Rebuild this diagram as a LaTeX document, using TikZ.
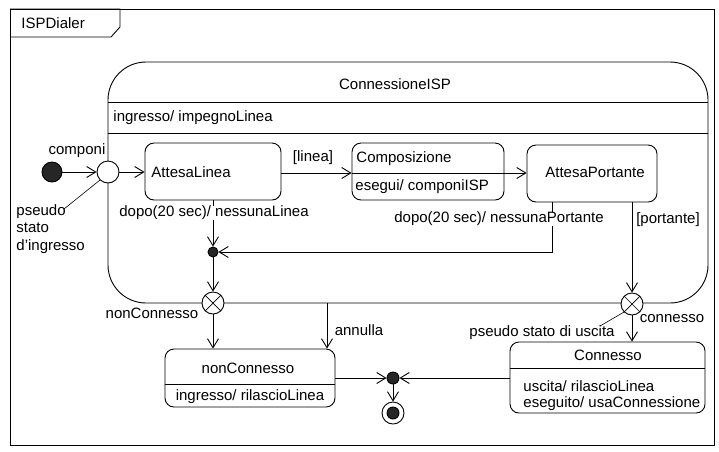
\documentclass[tikz,border=0pt]{standalone}
\usepackage{fontspec}
\setmainfont{Liberation Sans}
\usetikzlibrary{arrows.meta,calc}
\begin{document}
\begin{tikzpicture}[x=1pt,y=-1pt, line width=0.9pt,
  font=\fontsize{15}{17.5}\selectfont,
  arr/.style={-{Straight Barb[length=9pt,width=11pt,line width=0.9pt]}},
  stbox/.style={draw, rectangle, rounded corners=9pt, inner sep=0pt},
  filled/.style={circle, fill=black!85, draw, inner sep=0pt},
  pseudo/.style={circle, draw, fill=white, inner sep=0pt, minimum size=22pt},
  lbl/.style={inner sep=1pt}]
\useasboundingbox (0,0) rectangle (719,451);
% frame
\node[draw, rectangle, minimum width=704pt, minimum height=436pt, anchor=north west, inner sep=0pt] (frame) at (10,9) {};
\draw (frame.north west) -- ++(110,0) -- ++(0,18) -- ++(-9,10) -- ++(-101,0);
\node[lbl, anchor=west] (tabtxt) at (20,23) {ISPDialer};
% composite
\node[draw, rectangle, rounded corners=38pt, minimum width=600pt, minimum height=241pt, inner sep=0pt] (comp) at (408,182.5) {};
\node[lbl] (comptitle) at (395,84) {ConnessioneISP};
\coordinate (c1) at (0,102);
\coordinate (c2) at (0,133);
\draw (comp.west |- c1) -- (comp.east |- c1);
\draw (comp.west |- c2) -- (comp.east |- c2);
\node[lbl, anchor=west] (compentry) at (112,118) {ingresso/ impegnoLinea};
% initial and entry
\node[filled, minimum size=20pt] (init) at (52,172) {};
\node[pseudo] (entry) at (108,172) {};
\node[lbl] (componi) at (77,151) {componi};
\draw[arr] (init) -- (entry);
\node[lbl, anchor=north west, align=left] (psl) at (15,203) {pseudo\\stato\\d'ingresso};
\coordinate (pslend) at (64,209);
\draw[line width=0.6pt] (pslend) -- (entry.south west);
% inner states
\node[stbox, minimum width=136pt, minimum height=57pt] (al) at (213,171.5) {};
\node[lbl, anchor=west] (altxt) at (150,172) {AttesaLinea};
\node[stbox, minimum width=152pt, minimum height=57pt] (cmp) at (428,171.5) {};
\coordinate (c3) at (0,173);
\draw (cmp.west |- c3) -- (cmp.east |- c3);
\node[lbl, anchor=west] (cmptxt) at (355,159) {Composizione};
\node[lbl, anchor=west] (cmpdo) at (354,187) {esegui/ componiISP};
\node[stbox, minimum width=130pt, minimum height=57pt] (ap) at (592,173.5) {};
\node[lbl] (aptxt) at (595,172) {AttesaPortante};
\draw[arr] (entry) -- (entry -| al.west);
\draw[arr] (al.east |- c3) -- (cmp.west |- c3);
\node[lbl] (linea) at (313,158) {[linea]};
\draw[arr] (cmp.east |- c3) -- (ap.west |- c3);
% junction 1
\node[filled, minimum size=10pt] (j1) at (213,252) {};
\draw[arr] (al.south) -- (j1);
\draw[arr] ([xshift=-40pt]ap.south) |- (j1);
\node[lbl, fill=white, inner sep=0pt] (dl) at (214,213) {dopo(20 sec)/ nessunaLinea};
\node[lbl, fill=white, inner sep=0pt] (dp) at (499,219) {dopo(20 sec)/ nessunaPortante};
% exit points
\node[pseudo] (xnc) at (213,303) {};
\draw[line width=0.7pt] (xnc.north west) -- (xnc.south east) (xnc.north east) -- (xnc.south west);
\node[pseudo] (xc) at (632,304) {};
\draw[line width=0.7pt] (xc.north west) -- (xc.south east) (xc.north east) -- (xc.south west);
\draw[arr] (j1) -- (xnc);
\draw[arr] ([xshift=40pt]ap.south) -- (xc);
\node[lbl] (portante) at (668,220) {[portante]};
\node[lbl] (ncl) at (152,313) {nonConnesso};
\node[lbl] (cl) at (672,319) {connesso};
\node[lbl] (psu) at (542,333) {pseudo stato di uscita};
\coordinate (psuend) at (600,326);
\draw[line width=0.6pt] (psuend) -- (xc.south west);
% final states
\node[stbox, minimum width=170pt, minimum height=58pt] (nc) at (250,378) {};
\coordinate (c4) at (0,384);
\draw (nc.west |- c4) -- (nc.east |- c4);
\node[lbl] (nctxt) at (248,368) {nonConnesso};
\node[lbl] (ncdo) at (250,397) {ingresso/ rilascioLinea};
\node[stbox, minimum width=195pt, minimum height=71pt] (con) at (607.5,377.5) {};
\coordinate (c5) at (0,368);
\draw (con.west |- c5) -- (con.east |- c5);
\node[lbl] (contxt) at (608,355) {Connesso};
\node[lbl, anchor=west] (condo1) at (522,386) {uscita/ rilascioLinea};
\node[lbl, anchor=west] (condo2) at (522,404) {eseguito/ usaConnessione};
\draw[arr] (xnc) -- (xnc |- nc.north);
\coordinate (an) at (327,303);
\draw[arr] (an) -- (an |- nc.north);
\node[lbl] (annulla) at (359,330) {annulla};
\draw[arr] (xc) -- (xc |- con.north);
% junction 2 and final
\node[filled, minimum size=12pt] (j2) at (393,378) {};
\node[circle, draw, fill=white, minimum size=22pt, inner sep=0pt] (fin) at (393,413) {};
\node[filled, minimum size=12pt] (fininner) at (fin) {};
\draw[arr] (nc.east |- j2) -- (j2);
\draw[arr] (con.west |- j2) -- (j2);
\draw[arr] (j2) -- (fin);
\end{tikzpicture}
\end{document}
